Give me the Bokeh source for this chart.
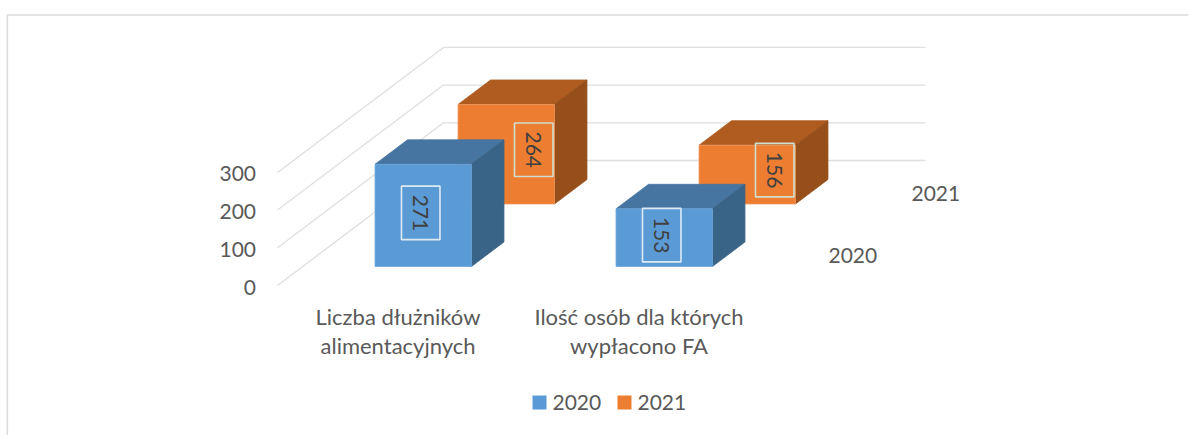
from bokeh.plotting import figure
from bokeh.embed import file_html
from bokeh.resources import INLINE
from bokeh.core.properties import value
from bokeh.models import Range1d

categories = ["Liczba dłużników\nalimentacyjnych", "Ilość osób dla których\nwypłacono FA"]
series_names = ["2020", "2021"]
values_2020 = [271, 153]
values_2021 = [264, 156]
y_ticks = [0, 100, 200, 300]

W, H = 1189, 435
FONT = value("Lato")
FS = "22px"
FS_NUM = "21px"
TXT = "#595959"
GRID = "#DEDEDE"
FACE = {"2020": "#5B9BD5", "2021": "#ED7D31"}
TOP = {"2020": "#4675A1", "2021": "#B05C20"}
SIDE = {"2020": "#3A6487", "2021": "#964F1B"}
EDGE = {"2020": "#6FA6DA", "2021": "#F09A60"}
BOX = {"2020": "#DDEAF5", "2021": "#CFE0D0"}
LABEL_OFFSET = {"2020": (-2.5, -2.5), "2021": (27.5, -4.5)}


def px(x, y, z):
    return 277 + 241 * x + 166 * z


def py(x, y, z):
    return 285 - 0.377 * y - 125 * z


def pt(x, y, z):
    return px(x, y, z), py(x, y, z)


def poly(points):
    return [p[0] for p in points], [p[1] for p in points]


p = figure(width=W, height=H, x_range=Range1d(0, W), y_range=Range1d(H, 0),
           output_backend="svg", toolbar_location=None, min_border=0,
           background_fill_color="white", border_fill_color="white", outline_line_color=None)
p.axis.visible = False
p.grid.visible = False

# chart frame
p.line([6.8, 6.8, 1188], [H, 14.5, 14.5], line_color="#DCDCDC", line_width=1.6)

# gridlines: floor/side wall to back wall
NC = len(categories)
for t in y_ticks:
    xs, ys = poly([pt(0, t, 0), pt(0, t, 1), pt(NC, t, 1)])
    p.line(xs, ys, line_color=GRID, line_width=1.3)

# y tick labels
p.text([255.5] * len(y_ticks), [py(0, t, 0) + 1.5 for t in y_ticks], text=[str(t) for t in y_ticks],
       text_font=FONT, text_font_size=FS_NUM, text_color=TXT, text_align="right", text_baseline="middle")

half = 0.2
depth = 0.098
labels = []
for name, zc, vals in [("2021", 0.75, values_2021), ("2020", 0.25, values_2020)]:
    for i, v in enumerate(vals):
        xc = i + 0.5
        x0, x1, z0, z1 = xc - half, xc + half, zc - depth, zc + depth
        front = [pt(x0, 0, z0), pt(x1, 0, z0), pt(x1, v, z0), pt(x0, v, z0)]
        top = [pt(x0, v, z0), pt(x1, v, z0), pt(x1, v, z1), pt(x0, v, z1)]
        side = [pt(x1, 0, z0), pt(x1, 0, z1), pt(x1, v, z1), pt(x1, v, z0)]
        for face, col in [(top, TOP[name]), (side, SIDE[name]), (front, FACE[name])]:
            xs, ys = poly(face)
            p.patch(xs, ys, fill_color=col, line_color=EDGE[name] if col == FACE[name] else col,
                    line_width=0.8)
        dx, dy = LABEL_OFFSET[name]
        labels.append((name, v, px(xc, v / 2, z0) + dx, py(xc, v / 2, z0) + dy))

for name, v, lx, ly in labels:
    p.rect([lx], [ly], width=38.5, height=53.5, fill_color=None, line_color=BOX[name], line_width=1.6)
    p.text([lx], [ly], text=[str(v)], angle=-1.5708, text_font=FONT, text_font_size=FS_NUM,
           text_color="#404040", text_align="center", text_baseline="middle")

# category labels
for i, c in enumerate(categories):
    for j, line in enumerate(c.split("\n")):
        p.text([px(i + 0.5, 0, 0)], [316 + 29 * j], text=[line], text_font=FONT, text_font_size=FS,
               text_color=TXT, text_align="center", text_baseline="middle")

# series labels along depth axis
for name, zc in zip(series_names, [0.25, 0.75]):
    p.text([px(NC, 0, zc) + 27.5], [py(NC, 0, zc) + 1.5], text=[name], text_font=FONT, text_font_size=FS_NUM,
           text_color=TXT, text_align="left", text_baseline="middle")

# legend
for name, sx, tx in zip(series_names, [539, 624], [552, 637]):
    p.rect([sx], [402], width=14, height=14, fill_color=FACE[name], line_color=None)
    p.text([tx], [402], text=[name], text_font=FONT, text_font_size=FS_NUM, text_color=TXT,
           text_align="left", text_baseline="middle")

open("out.html", "w").write(file_html(p, INLINE))
